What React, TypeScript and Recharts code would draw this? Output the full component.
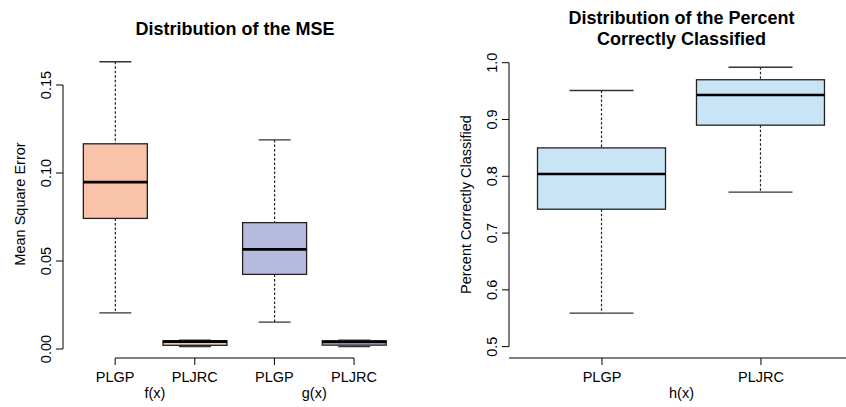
import React from 'react';
import { ComposedChart, Bar, XAxis, YAxis, ReferenceLine } from 'recharts';

// ---------- Left panel: Distribution of the MSE ----------
const mseLabels = ['PLGP', 'PLJRC', 'PLGP', 'PLJRC'];
const msePositions = [1, 2, 3, 4];
const mseGroups = ['f(x)', 'g(x)'];
const mseGroupPositions = [1.5, 3.5];
const mseMin = [0.0205, 0.0013, 0.0153, 0.0013];
const mseQ1 = [0.0742, 0.0021, 0.0424, 0.0022];
const mseMedian = [0.0948, 0.0042, 0.0566, 0.0040];
const mseQ3 = [0.1166, 0.0047, 0.0718, 0.0047];
const mseMax = [0.1632, 0.0050, 0.1188, 0.0050];
const mseFills = ['#F8C3A8', '#F8C3A8', '#B6BBDE', '#B6BBDE'];
const mseTicks = [0, 0.05, 0.1, 0.15];
const mseTickLabels = ['0.00', '0.05', '0.10', '0.15'];

// ---------- Right panel: Percent Correctly Classified ----------
const pccLabels = ['PLGP', 'PLJRC'];
const pccPositions = [1, 2];
const pccGroups = ['h(x)'];
const pccGroupPositions = [1.5];
const pccMin = [0.559, 0.772];
const pccQ1 = [0.742, 0.890];
const pccMedian = [0.804, 0.943];
const pccQ3 = [0.850, 0.970];
const pccMax = [0.951, 0.992];
const pccFills = ['#C9E5F5', '#C9E5F5'];
const pccTicks = [0.5, 0.6, 0.7, 0.8, 0.9, 1.0];
const pccTickLabels = ['0.5', '0.6', '0.7', '0.8', '0.9', '1.0'];

const FONT = '"Liberation Sans", Arial, Helvetica, sans-serif';

const build = (pos: number[], mn: number[], q1: number[], md: number[], q3: number[], mx: number[], fills: string[]) =>
  pos.map((p, i) => ({
    pos: p,
    range: [mn[i], mx[i]],
    min: mn[i],
    q1: q1[i],
    median: md[i],
    q3: q3[i],
    max: mx[i],
    fill: fills[i],
  }));

const mseData = build(msePositions, mseMin, mseQ1, mseMedian, mseQ3, mseMax, mseFills);
const pccData = build(pccPositions, pccMin, pccQ1, pccMedian, pccQ3, pccMax, pccFills);

const BoxShape = (props: any) => {
  const { x, y, width, height } = props;
  const d = props.payload || props;
  const { min, q1, median, q3, max, fill } = d;
  const top = Math.min(y, y + height);
  const h = Math.abs(height);
  const span = max - min || 1;
  const py = (v: number) => top + ((max - v) / span) * h;
  const cx = x + width / 2;
  const cap = width / 4;
  return (
    <g>
      <line x1={cx} x2={cx} y1={py(max)} y2={py(q3)} stroke="#222" strokeWidth={1.2} strokeDasharray="2.5 2" />
      <line x1={cx} x2={cx} y1={py(q1)} y2={py(min)} stroke="#222" strokeWidth={1.2} strokeDasharray="2.5 2" />
      <line x1={cx - cap} x2={cx + cap} y1={py(max)} y2={py(max)} stroke="#333" strokeWidth={1.3} />
      <line x1={cx - cap} x2={cx + cap} y1={py(min)} y2={py(min)} stroke="#333" strokeWidth={1.3} />
      <rect x={x} y={py(q3)} width={width} height={py(q1) - py(q3)} fill={fill} stroke="#222" strokeWidth={1.3} />
      <line x1={x} x2={x + width} y1={py(median)} y2={py(median)} stroke="#000" strokeWidth={2.6} />
    </g>
  );
};

const makeRotTick = (values: number[], labels: string[]) => (props: any) => {
  const { x, y, payload } = props;
  const idx = values.findIndex((v) => Math.abs(v - payload.value) < 1e-9);
  return (
    <text
      x={x}
      y={y}
      transform={`rotate(-90 ${x} ${y})`}
      textAnchor="middle"
      fontSize={14.5}
      fill="#000"
      fontFamily={FONT}
    >
      {idx >= 0 ? labels[idx] : String(payload.value)}
    </text>
  );
};

const makeYTitle = (text: string) => (props: any) => {
  const vb = props.viewBox || {};
  const ax = (vb.x || 0) + (vb.width || 0);
  const bx = ax - 38;
  const cy = (vb.y || 0) + (vb.height || 0) / 2;
  return (
    <text
      x={bx}
      y={cy}
      transform={`rotate(-90 ${bx} ${cy})`}
      textAnchor="middle"
      fontSize={14.5}
      fill="#000"
      fontFamily={FONT}
    >
      {text}
    </text>
  );
};

const tickStyle = { fill: '#000', fontSize: 14.5, fontFamily: FONT };

const MseChart = () => (
  <ComposedChart
    width={420}
    height={407}
    data={mseData}
    margin={{ top: 50, right: 13, bottom: 0, left: 0 }}
  >
    <XAxis
      xAxisId="cat"
      type="number"
      dataKey="pos"
      domain={[0.345, 4.665]}
      allowDataOverflow
      ticks={msePositions}
      interval={0}
      tickFormatter={(v: number) => mseLabels[msePositions.indexOf(v)] ?? ''}
      axisLine={false}
      tickLine={{ stroke: '#000', strokeWidth: 1 }}
      tickSize={7}
      tickMargin={7}
      height={22}
      tick={tickStyle}
    />
    <XAxis
      xAxisId="grp"
      type="number"
      dataKey="pos"
      domain={[0.345, 4.665]}
      allowDataOverflow
      ticks={mseGroupPositions}
      interval={0}
      tickFormatter={(v: number) => mseGroups[mseGroupPositions.indexOf(v)] ?? ''}
      axisLine={false}
      tickLine={false}
      tickSize={0}
      tickMargin={8}
      height={27}
      tick={tickStyle}
    />
    <YAxis
      type="number"
      domain={[-0.00511, 0.16989]}
      allowDataOverflow
      ticks={mseTicks}
      interval={0}
      width={63}
      axisLine={false}
      tickLine={{ stroke: '#000', strokeWidth: 1 }}
      tickSize={7}
      tickMargin={5}
      tick={makeRotTick(mseTicks, mseTickLabels)}
      label={{ content: makeYTitle('Mean Square Error') } as any}
    />
    <ReferenceLine
      xAxisId="cat"
      segment={[{ x: 0.345, y: 0 }, { x: 0.345, y: 0.15 }]}
      stroke="#000"
      strokeWidth={1}
      ifOverflow="visible"
    />
    <ReferenceLine
      xAxisId="cat"
      segment={[{ x: 1, y: -0.00511 }, { x: 4, y: -0.00511 }]}
      stroke="#000"
      strokeWidth={1}
      ifOverflow="visible"
    />
    <Bar xAxisId="cat" dataKey="range" barSize={64} shape={BoxShape} isAnimationActive={false} />
  </ComposedChart>
);

const PccChart = () => (
  <ComposedChart
    width={440}
    height={407}
    data={pccData}
    margin={{ top: 51, right: 7, bottom: 0, left: 0 }}
  >
    <XAxis
      xAxisId="cat"
      type="number"
      dataKey="pos"
      domain={[0.415, 2.579]}
      allowDataOverflow
      ticks={pccPositions}
      interval={0}
      tickFormatter={(v: number) => pccLabels[pccPositions.indexOf(v)] ?? ''}
      axisLine={false}
      tickLine={{ stroke: '#000', strokeWidth: 1 }}
      tickSize={7}
      tickMargin={7}
      height={22}
      tick={tickStyle}
    />
    <XAxis
      xAxisId="grp"
      type="number"
      dataKey="pos"
      domain={[0.415, 2.579]}
      allowDataOverflow
      ticks={pccGroupPositions}
      interval={0}
      tickFormatter={(v: number) => pccGroups[pccGroupPositions.indexOf(v)] ?? ''}
      axisLine={false}
      tickLine={false}
      tickSize={0}
      tickMargin={8}
      height={27}
      tick={tickStyle}
    />
    <YAxis
      type="number"
      domain={[0.48, 1.0206]}
      allowDataOverflow
      ticks={pccTicks}
      interval={0}
      width={89}
      axisLine={false}
      tickLine={{ stroke: '#000', strokeWidth: 1 }}
      tickSize={7}
      tickMargin={5}
      tick={makeRotTick(pccTicks, pccTickLabels)}
      label={{ content: makeYTitle('Percent Correctly Classified') } as any}
    />
    <ReferenceLine
      xAxisId="cat"
      segment={[{ x: 0.415, y: 0.5 }, { x: 0.415, y: 1.0 }]}
      stroke="#000"
      strokeWidth={1}
      ifOverflow="visible"
    />
    <ReferenceLine
      xAxisId="cat"
      segment={[{ x: 0.415, y: 0.48 }, { x: 2.579, y: 0.48 }]}
      stroke="#000"
      strokeWidth={1}
      ifOverflow="visible"
    />
    <Bar xAxisId="cat" dataKey="range" barSize={128} shape={BoxShape} isAnimationActive={false} />
  </ComposedChart>
);

export default function App() {
  return (
    <div
      style={{
        position: 'fixed',
        left: 0,
        top: 0,
        width: 846,
        height: 407,
        overflow: 'hidden',
        background: '#fff',
        fontFamily: FONT,
      }}
    >
      <div style={{ position: 'absolute', left: 0, top: 0 }}>
        <MseChart />
      </div>
      <div style={{ position: 'absolute', left: 420, top: 0 }}>
        <PccChart />
      </div>
      <svg
        width={846}
        height={60}
        style={{ position: 'absolute', left: 0, top: 0, pointerEvents: 'none' }}
      >
        <text x={235} y={34.5} textAnchor="middle" fontSize={18} fontWeight="bold" fontFamily={FONT} fill="#000">
          Distribution of the MSE
        </text>
        <text x={681.5} y={23.5} textAnchor="middle" fontSize={18} fontWeight="bold" fontFamily={FONT} fill="#000">
          Distribution of the Percent
        </text>
        <text x={681.5} y={44.5} textAnchor="middle" fontSize={18} fontWeight="bold" fontFamily={FONT} fill="#000">
          Correctly Classified
        </text>
      </svg>
    </div>
  );
}
